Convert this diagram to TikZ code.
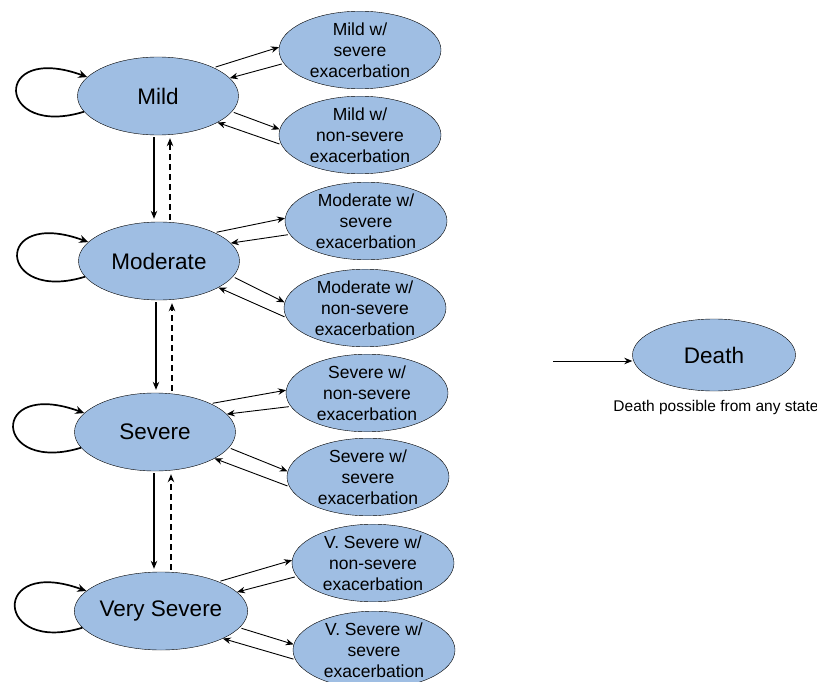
\documentclass[tikz,border=0pt]{standalone}
\usepackage{fontspec}
\setmainfont{Liberation Sans}
\usetikzlibrary{arrows.meta, positioning, calc, shapes.geometric}
\definecolor{stateblue}{HTML}{9FBEE3}

\begin{document}
\begin{tikzpicture}[x=1pt, y=-1pt,
    state/.style={ellipse, draw, fill=stateblue, inner sep=0pt,
                  minimum width=161pt, minimum height=78pt,
                  font=\fontsize{22.5}{26}\selectfont},
    substate/.style={ellipse, draw, fill=stateblue, inner sep=0pt,
                  minimum width=162pt, minimum height=77pt, align=center,
                  font=\fontsize{17.5}{21}\selectfont},
    arr/.style={-{Stealth[length=8pt, width=6.5pt]}, line width=0.9pt},
    vert/.style={arr, line width=1.2pt},
    selfloop/.style={-{Stealth[length=9pt, width=8pt]}, line width=1.7pt}]
  \useasboundingbox (0,0) rectangle (817,682);
  % main states
  \node[state] (mild) at (158, 96) {Mild};
  \node[state] (mod)  at (159, 261) {Moderate};
  \node[state] (sev)  at (155, 432) {Severe};
  \node[state] (vs)   at (161, 611) {Very Severe};
  % exacerbation states
  \node[substate] (mws) at (360, 50)  {Mild w/\\severe\\exacerbation};
  \node[substate] (mwn) at (360, 135) {Mild w/\\non-severe\\exacerbation};
  \node[substate] (dws) at (366, 221) {Moderate w/\\severe\\exacerbation};
  \node[substate] (dwn) at (365, 308) {Moderate w/\\non-severe\\exacerbation};
  \node[substate] (swn) at (367, 393) {Severe w/\\non-severe\\exacerbation};
  \node[substate] (sws) at (368, 477) {Severe w/\\severe\\exacerbation};
  \node[substate] (vwn) at (373, 563) {V. Severe w/\\non-severe\\exacerbation};
  \node[substate] (vws) at (374, 650) {V. Severe w/\\severe\\exacerbation};
  % death
  \node[state, minimum width=163pt, minimum height=72pt] (death) at (714, 355) {Death};
  \node[below=6pt of death, xshift=2pt, font=\fontsize{15.5}{18}\selectfont] (dnote)
    {Death possible from any state};
  \coordinate (dsrc) at (553, 361);
  \draw[arr] (dsrc) -- (dsrc -| death.west);
  % to and from exacerbation
  \foreach \m/\a/\b in {mild/mws/mwn, mod/dws/dwn, sev/swn/sws, vs/vwn/vws} {
    \draw[arr, shorten <=2pt] (\m.27) -- (\a.178);
    \draw[arr, shorten <=2pt] (\a.190) -- (\m.14);
    \draw[arr, shorten <=2pt] (\m.-12) -- (\b.176);
    \draw[arr, shorten <=2pt] (\b.187) -- (\m.-24);
    \draw[selfloop] (\m.192) .. controls +(-88,27) and +(-96,-35) .. (\m.165);
  }
  % progression and regression
  \foreach \u/\l/\s/\d in {mild/mod/-4/12, mod/sev/-3/13, sev/vs/-1/16} {
    \draw[vert, shorten <=2pt, shorten >=3pt]
      ([xshift=\s pt]\u.south) -- ([xshift=\s pt]\u.south |- \l.north);
    \draw[vert, dash pattern=on 6pt off 4pt, shorten <=2pt, shorten >=3pt]
      ([xshift=\d pt]\u.south |- \l.north) -- ([xshift=\d pt]\u.south);
  }
\end{tikzpicture}
\end{document}
